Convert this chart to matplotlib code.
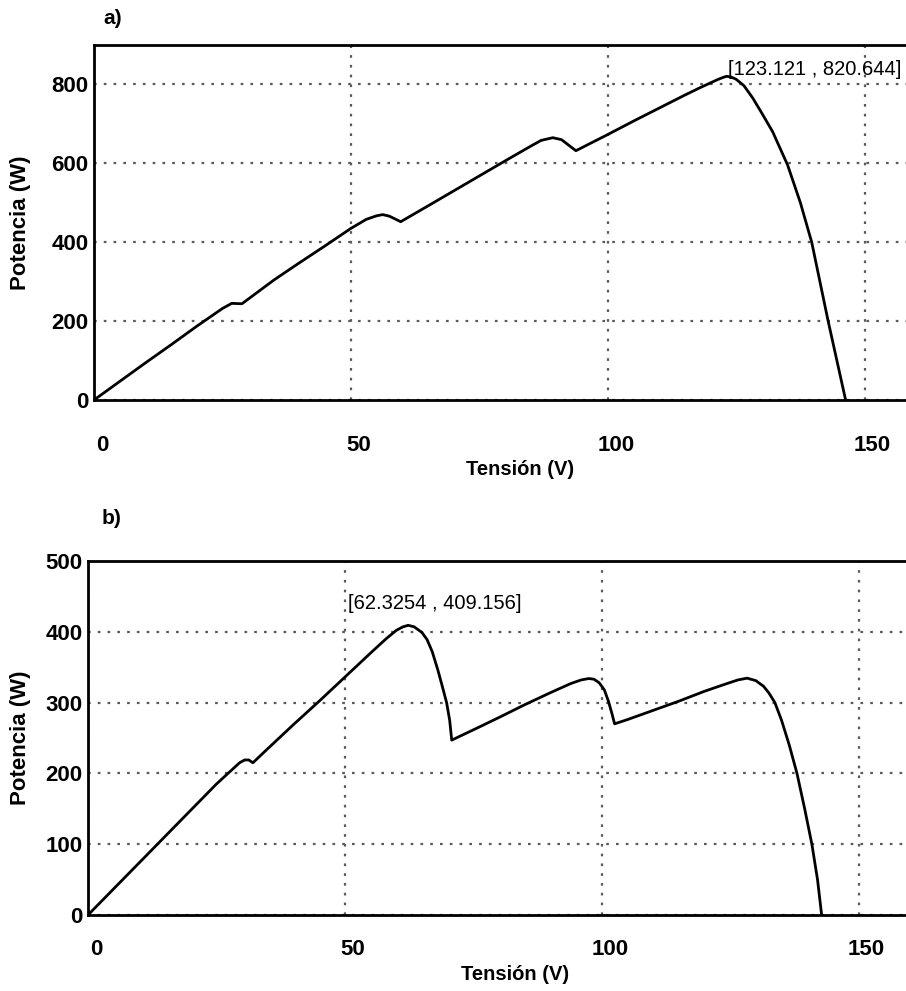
import matplotlib.pyplot as plt
from matplotlib.transforms import ScaledTranslation

plt.rcParams['font.family'] = ['Liberation Sans', 'DejaVu Sans']

# P-V curve, case a (V, W)
volt_a = [0, 5, 10, 15, 20, 23, 25, 26.8, 28.8, 35, 40, 45, 50, 53, 55, 56.2,
          57.5, 59.7, 65, 70, 75, 80, 84.8, 87, 89.3, 91, 93.8, 100, 105, 110,
          115, 118, 120, 121.5, 122.5, 123.121, 124, 125, 126.5, 128.2, 130,
          132.1, 135, 137.5, 139.7, 141.3, 142.9, 144.6, 146.3]
pow_a = [0, 47, 94, 140, 187, 214, 232, 245, 244, 304, 348, 391, 435, 458, 467,
         470, 466, 452, 492, 530, 568, 606, 642, 658, 665, 660, 632, 673, 707,
         740, 773, 792, 804, 813, 818, 820.644, 819, 813, 797, 766, 727, 680,
         596, 500, 400, 300, 200, 100, 0]
mpp_a = (123.121, 820.644)

# P-V curve, case b (V, W)
volt_b = [0, 5, 10, 15, 20, 25, 28, 29.5, 30.5, 31.3, 32.1, 35, 40, 45, 50, 55,
          58, 60, 61.3, 62.3254, 63.5, 65, 66, 67, 68.1, 69, 69.8, 70.4, 70.8,
          76.3, 80, 85, 90, 94, 96, 97.5, 98.5, 99.5, 100.5, 101.3, 102, 102.5,
          105, 110, 115, 120, 124, 126.5, 128.3, 130, 131.5, 132.5, 133.7, 135,
          136.5, 138, 139.5, 140.9, 142, 142.8]
pow_b = [0, 37, 74, 111, 148, 185, 205, 215, 219, 219, 215, 235, 269, 302, 336,
         370, 390, 402, 407, 409.156, 407, 399, 389, 372, 346, 322, 300, 275,
         247, 266, 279, 297, 314, 327, 332, 334, 333, 328, 318, 302, 284, 270,
         276, 289, 302, 316, 326, 332, 334.5, 331, 323, 314, 300, 275, 240, 200,
         150, 100, 50, 0]
mpp_b = (62.3254, 409.156)

xticks = [0, 50, 100, 150]
yticks_a = [0, 200, 400, 600, 800]
yticks_b = [0, 100, 200, 300, 400, 500]

W, H = 906, 991
fig = plt.figure(figsize=(W / 100, H / 100), dpi=100)


def make_panel(rect, volt, power, yticks, ylim, mpp, txt_pos, txt_va, tag,
               tag_pos, xtickpad, xlabel_pos):
    ax = fig.add_axes(rect)
    ax.plot(volt, power, color='black', lw=2.0)
    ax.set_xlim(0, 160)
    ax.set_ylim(*ylim)
    ax.set_xticks(xticks)
    ax.set_yticks(yticks)
    ax.grid(True, color='#5a5a5a', linestyle=(0, (1.2, 3.2)), lw=1.6)
    ax.tick_params(length=0, labelsize=16)
    ax.tick_params(axis='x', pad=xtickpad)
    ax.tick_params(axis='y', pad=4)
    for lbl in ax.get_xticklabels() + ax.get_yticklabels():
        lbl.set_fontweight('bold')
    shift = ScaledTranslation(0.08, 0, fig.dpi_scale_trans)
    for lbl in ax.get_xticklabels():
        lbl.set_transform(lbl.get_transform() + shift)
    for side in ['left', 'bottom', 'top']:
        ax.spines[side].set_linewidth(2.0)
        ax.spines[side].set_color('black')
    ax.set_xlabel('Tensión (V)', fontsize=14.5, fontweight='bold')
    ax.xaxis.set_label_coords(xlabel_pos[0] / W, 1 - xlabel_pos[1] / H,
                              transform=fig.transFigure)
    ax.set_ylabel('Potencia (W)', fontsize=16, fontweight='bold')
    ax.yaxis.set_label_coords(31 / W, rect[1] + rect[3] / 2,
                              transform=fig.transFigure)
    ax.text(txt_pos[0], txt_pos[1],
            '[%s , %s]' % (mpp[0], mpp[1]),
            fontsize=14.5, ha='left', va=txt_va)
    fig.text(tag_pos[0] / W, 1 - tag_pos[1] / H, tag, fontsize=15,
             fontweight='bold', ha='left', va='center')
    return ax


make_panel([94 / W, 1 - 400 / H, 822 / W, 355 / H], volt_a, pow_a,
           yticks_a, (0, 900), mpp_a, (mpp_a[0] + 0.2, mpp_a[1] - 8),
           'bottom', 'a)', (103, 19), 25, (520, 460))

make_panel([88 / W, 1 - 915 / H, 822 / W, 354 / H], volt_b, pow_b,
           yticks_b, (0, 500), mpp_b, (50.6, 440), 'center', 'b)',
           (102, 518), 17, (515, 965))

fig.savefig('out.png', dpi=100)
